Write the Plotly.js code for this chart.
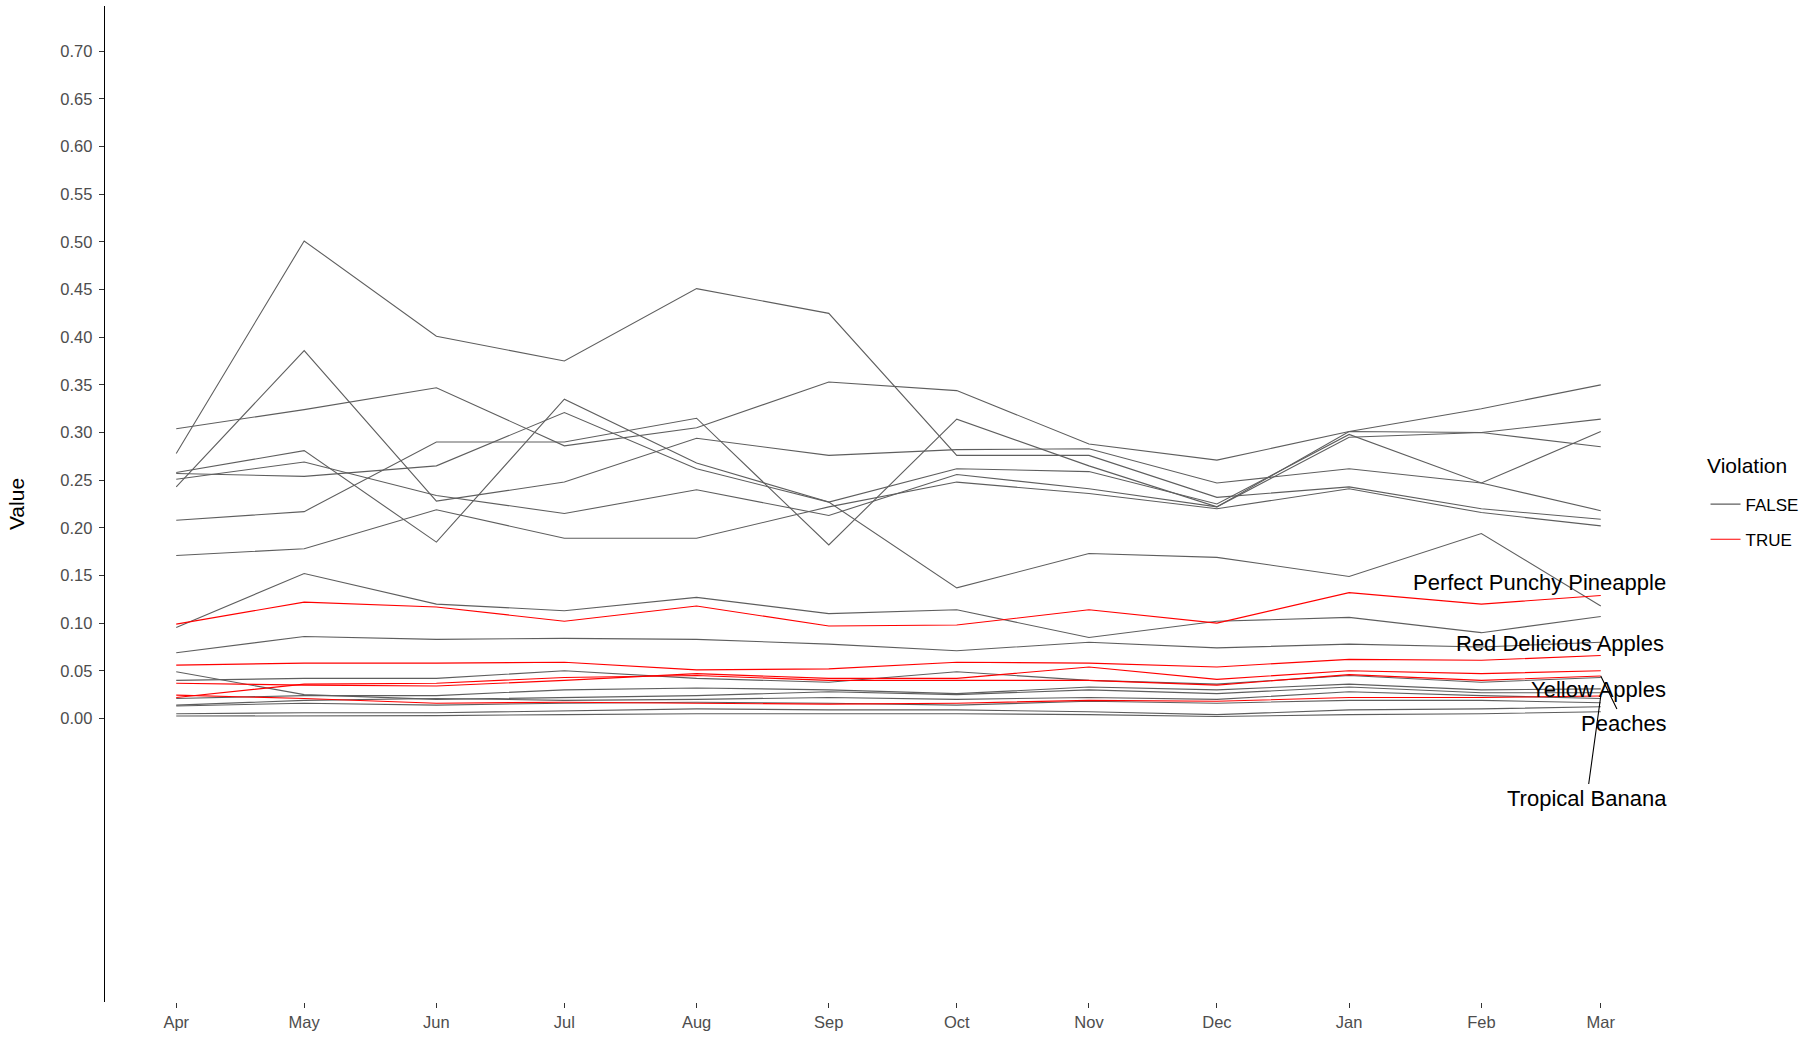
<!DOCTYPE html>
<html>
<head>
<meta charset="utf-8">
<script src="https://cdn.plot.ly/plotly-3.0.1.min.js"></script>
<style>
  html, body { margin: 0; padding: 0; background: #ffffff; }
  #chart { width: 1814px; height: 1039px; }
</style>
</head>
<body>
<div id="chart"></div>
<script>
// ---------- data ----------
const months = ['2018-04-01','2018-05-01','2018-06-01','2018-07-01','2018-08-01','2018-09-01',
                '2018-10-01','2018-11-01','2018-12-01','2019-01-01','2019-02-01','2019-03-01'];

// Violation = FALSE series
const seriesA = [0.278, 0.501, 0.401, 0.375, 0.451, 0.425, 0.276, 0.276, 0.232, 0.243, 0.220, 0.209];
const seriesB = [0.243, 0.386, 0.228, 0.248, 0.294, 0.276, 0.282, 0.283, 0.247, 0.262, 0.247, 0.218];
const seriesC = [0.304, 0.324, 0.347, 0.286, 0.305, 0.353, 0.344, 0.288, 0.271, 0.301, 0.325, 0.350];
const seriesD = [0.258, 0.281, 0.185, 0.335, 0.268, 0.227, 0.137, 0.173, 0.169, 0.149, 0.194, 0.118];
const seriesE = [0.251, 0.269, 0.234, 0.215, 0.240, 0.213, 0.256, 0.241, 0.222, 0.295, 0.300, 0.285];
const seriesF = [0.208, 0.217, 0.290, 0.290, 0.315, 0.182, 0.314, 0.265, 0.222, 0.301, 0.300, 0.314];
const seriesG = [0.171, 0.178, 0.219, 0.189, 0.189, 0.222, 0.248, 0.236, 0.220, 0.241, 0.216, 0.202];
const seriesH = [0.257, 0.254, 0.265, 0.321, 0.262, 0.227, 0.262, 0.259, 0.225, 0.298, 0.247, 0.301];
const seriesI = [0.0955, 0.152, 0.120, 0.113, 0.127, 0.110, 0.114, 0.085, 0.102, 0.106, 0.090, 0.107];
const seriesJ = [0.069, 0.086, 0.083, 0.084, 0.083, 0.078, 0.071, 0.080, 0.074, 0.078, 0.075, 0.080];
const seriesK1 = [0.049, 0.025, 0.020, 0.022, 0.024, 0.028, 0.025, 0.030, 0.026, 0.033, 0.027, 0.027];
const seriesK2 = [0.040, 0.042, 0.042, 0.050, 0.042, 0.038, 0.049, 0.040, 0.036, 0.045, 0.038, 0.043];
const seriesK3 = [0.021, 0.024, 0.024, 0.030, 0.032, 0.030, 0.026, 0.033, 0.030, 0.036, 0.030, 0.031];
const seriesK4 = [0.014, 0.019, 0.021, 0.019, 0.020, 0.022, 0.020, 0.022, 0.020, 0.028, 0.024, 0.021];
const seriesK5 = [0.013, 0.016, 0.014, 0.016, 0.017, 0.016, 0.014, 0.018, 0.016, 0.019, 0.019, 0.0165];
const seriesK6 = [0.005, 0.006, 0.006, 0.008, 0.010, 0.009, 0.009, 0.007, 0.004, 0.009, 0.010, 0.0123];
const seriesK7 = [0.0025, 0.0025, 0.003, 0.004, 0.005, 0.005, 0.005, 0.004, 0.002, 0.004, 0.005, 0.007];

// Violation = TRUE series
const pineapple    = [0.099, 0.122, 0.117, 0.102, 0.118, 0.097, 0.098, 0.114, 0.100, 0.132, 0.120, 0.129];
const redDelicious = [0.056, 0.058, 0.058, 0.059, 0.051, 0.052, 0.059, 0.058, 0.054, 0.062, 0.061, 0.066];
const yellowApples = [0.037, 0.035, 0.034, 0.040, 0.047, 0.042, 0.042, 0.054, 0.041, 0.050, 0.047, 0.050];
const peaches      = [0.022, 0.036, 0.037, 0.043, 0.045, 0.040, 0.040, 0.040, 0.035, 0.046, 0.040, 0.0445];
const banana       = [0.0245, 0.021, 0.016, 0.017, 0.016, 0.015, 0.016, 0.019, 0.018, 0.022, 0.022, 0.0235];

const falseSeries = [seriesA, seriesB, seriesC, seriesD, seriesE, seriesF, seriesG, seriesH,
                     seriesI, seriesJ, seriesK1, seriesK2, seriesK3, seriesK4, seriesK5, seriesK6, seriesK7];
const trueNames  = ['Perfect Punchy Pineapple', 'Red Delicious Apples', 'Yellow Apples', 'Peaches', 'Tropical Banana'];
const trueSeries = [pineapple, redDelicious, yellowApples, peaches, banana];

const yTicks = [0.00,0.05,0.10,0.15,0.20,0.25,0.30,0.35,0.40,0.45,0.50,0.55,0.60,0.65,0.70];

// ---------- traces ----------
const GREY = '#5e5e5e';
const RED = '#ff0000';
const traces = [];
falseSeries.forEach((s, i) => {
  traces.push({
    x: months, y: s, type: 'scatter', mode: 'lines',
    line: {color: GREY, width: 1.1},
    name: 'FALSE', legendgroup: 'FALSE', showlegend: i === 0,
    hoverinfo: 'skip'
  });
});
trueSeries.forEach((s, i) => {
  traces.push({
    x: months, y: s, type: 'scatter', mode: 'lines',
    line: {color: RED, width: 1.1},
    name: 'TRUE', legendgroup: 'TRUE', showlegend: i === 0,
    hoverinfo: 'skip'
  });
});

// ---------- labels (repel-style) ----------
const FONT = 'Liberation Sans, Arial, sans-serif';
const labelStyle = [
  {arrow: false, xshift: 67, yshift: 13},
  {arrow: false, xshift: 65, yshift: 12},
  {arrow: false, xshift: 67, yshift: -19},
  {arrow: true, ax: 23, ay: 47},
  {arrow: true, ax: -14, ay: 102}
];
const last = months.length - 1;
const annotations = trueNames.map((nm, i) => {
  const st = labelStyle[i];
  const a = {
    x: months[last], y: trueSeries[i][last], xref: 'x', yref: 'y',
    text: nm, font: {family: FONT, size: 22, color: '#000000'}
  };
  if (st.arrow) {
    Object.assign(a, {showarrow: true, ax: st.ax, ay: st.ay, arrowhead: 0, arrowwidth: 1.1,
                      arrowcolor: '#000000', standoff: 0, startstandoff: 0});
  } else {
    Object.assign(a, {showarrow: false, xanchor: 'right', yanchor: 'middle',
                      xshift: st.xshift, yshift: st.yshift});
  }
  return a;
});
// legend title
annotations.push({
  xref: 'paper', yref: 'paper', x: 1.0213, y: 0.539, xanchor: 'left', yanchor: 'middle',
  showarrow: false, text: 'Violation', font: {family: FONT, size: 21, color: '#000000'}
});

const layout = {
  width: 1814, height: 1039,
  margin: {l: 105, r: 142, t: 6, b: 37, pad: 0},
  paper_bgcolor: '#ffffff', plot_bgcolor: '#ffffff',
  font: {family: FONT, color: '#000000'},
  showlegend: true,
  xaxis: {
    type: 'date',
    range: ['2018-03-15 07:12', '2019-03-17 16:48'],
    tickvals: months, tickformat: '%b',
    ticks: 'outside', ticklen: 5, tickwidth: 1, tickcolor: '#333333',
    tickfont: {size: 16.5, color: '#4d4d4d'},
    showline: false, showgrid: false, zeroline: false,
    fixedrange: true
  },
  yaxis: {
    range: [-0.2975, 0.7475],
    tickvals: yTicks, tickformat: '.2f',
    ticks: 'outside', ticklen: 5, tickwidth: 1, tickcolor: '#333333',
    tickfont: {size: 16.5, color: '#4d4d4d'},
    ticklabelstandoff: 3,
    showline: true, linecolor: '#000000', linewidth: 1.3,
    showgrid: false, zeroline: false,
    title: {text: 'Value', font: {size: 21, color: '#000000'}, standoff: 30},
    automargin: false,
    fixedrange: true
  },
  legend: {
    x: 1.0214, xanchor: 'left', y: 0.5175, yanchor: 'top',
    font: {size: 17, color: '#000000'},
    tracegroupgap: 10, itemwidth: 30,
    bgcolor: 'rgba(0,0,0,0)'
  },
  annotations: annotations
};

Plotly.newPlot('chart', traces, layout, {displayModeBar: false, staticPlot: true});
</script>
</body>
</html>
